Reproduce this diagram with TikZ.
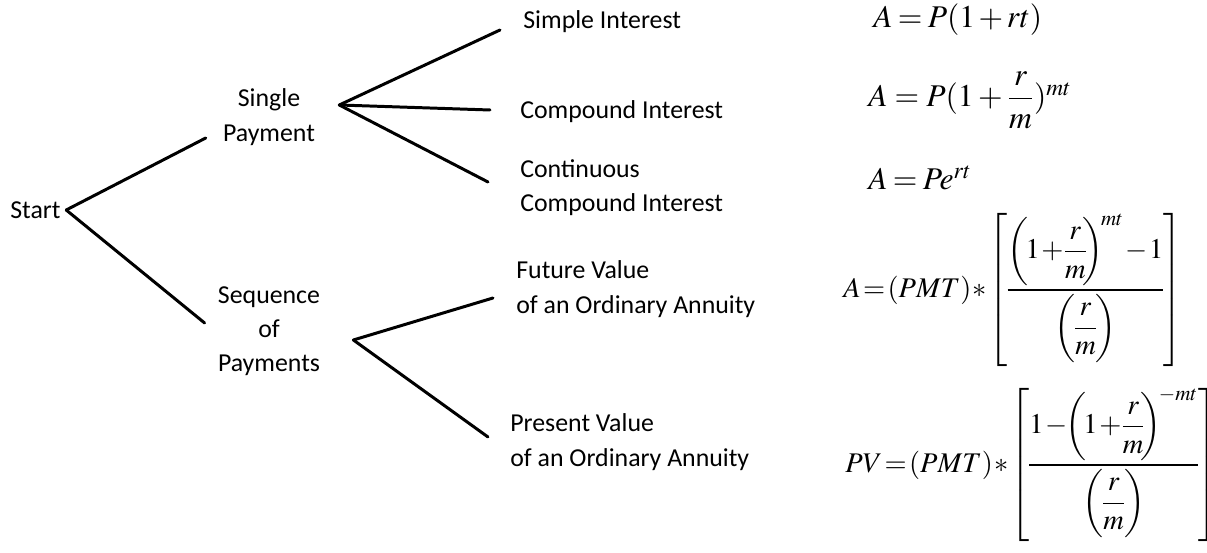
\documentclass[tikz,border=0pt]{standalone}
\usepackage{amsmath}
\usepackage{mathptmx}
\usepackage[no-math]{fontspec}
\setmainfont{Carlito}
\usepackage{tikz}
\usetikzlibrary{positioning}
\newcommand{\tightmath}{\thickmuskip=3mu \medmuskip=2mu\relax}
\newcommand{\tightermath}{\thickmuskip=1.5mu \medmuskip=1mu \nulldelimiterspace=0pt\relax}

\begin{document}
\begin{tikzpicture}[
  x=0.02cm, y=-0.02cm,
  label/.style={
    inner sep=0pt,
    align=left,
    font=\fontsize{14.7}{19.5}\selectfont
  },
  choice/.style={
    inner sep=0pt,
    align=center,
    font=\fontsize{14.7}{19.5}\selectfont
  },
  formula/.style={
    inner sep=0pt,
    anchor=west,
    font=\fontsize{18}{22}\selectfont
  },
  annuity/.style={
    inner sep=0pt,
    anchor=west,
    font=\fontsize{16.2}{20}\selectfont
  },
  branch/.style={line width=1.7pt, line cap=round},
]
\useasboundingbox (0,0) rectangle (1207,553);

\node[label, anchor=west] (start) at (10,210) {Start};

\node[choice] (single) at (269,117) {Single\\Payment};
\node[choice] (sequence) at (269,331) {Sequence\\of\\Payments};

\node[label, anchor=west] (simple) at (523,22) {Simple Interest};
\node[label, anchor=west] (compound) at (520,112) {Compound Interest};
\node[label, anchor=west] (continuous) at (520,188) {Continuous\\Compound Interest};
\node[label, anchor=west] (future) at (516,289) {Future Value\\of an Ordinary Annuity};
\node[label, anchor=west] (present) at (510,442) {Present Value\\of an Ordinary Annuity};

% formulas
\node[formula] (fsimple) at (873,20) {$\tightmath A=P(1+rt)$};
\node[formula] (fcompound) at (868,100) {$A=P(1+\dfrac{r}{m})^{mt}$};
\node[formula] (fcontinuous) at (868,178) {$\tightmath A=Pe^{rt}$};
\node[annuity] (ffuture) at (843,290)
  {$\tightermath A=(PMT)*\left[\dfrac{\biggl(\!1+\dfrac{r}{m}\!\biggr)^{\!mt}-1}{\biggl(\dfrac{r}{m}\biggr)}\right]$};
\node[annuity] (fpresent) at (845,465)
  {$\tightermath PV=(PMT)*\left[\dfrac{1-\!\biggl(\!1+\dfrac{r}{m}\!\biggr)^{\!-mt}}{\biggl(\dfrac{r}{m}\biggr)}\right]$};

\draw[branch] ([xshift=3]start.east) -- ([shift={(-17,21)}]single.west);
\draw[branch] ([xshift=3]start.east) -- ([shift={(-13,-8)}]sequence.west);

\draw[branch] ([shift={(24,-12)}]single.east) -- ([shift={(-23,8)}]simple.west);
\draw[branch] ([shift={(24,-12)}]single.east) -- ([shift={(-30,-2)}]compound.west);
\draw[branch] ([shift={(24,-12)}]single.east) -- ([shift={(-32,-6)}]continuous.west);

\draw[branch] ([shift={(33,9)}]sequence.east) -- ([shift={(-23,9)}]future.west);
\draw[branch] ([shift={(33,9)}]sequence.east) -- ([shift={(-22,-5)}]present.west);

\end{tikzpicture}
\end{document}
